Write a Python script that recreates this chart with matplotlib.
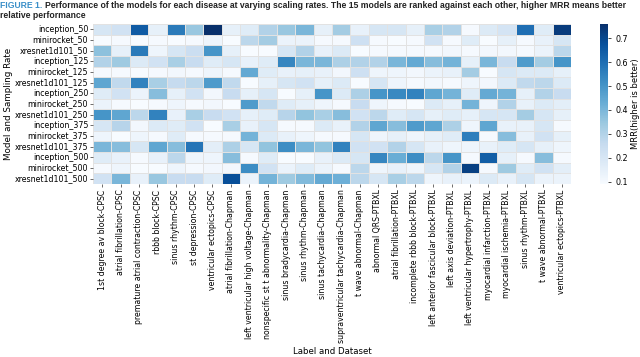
import matplotlib
matplotlib.use("Agg")
import matplotlib.pyplot as plt
import seaborn as sns
import pandas as pd

# --- Dados (MRR) ---
models = [
    "inception_50", "minirocket_50", "xresnet1d101_50",
    "inception_125", "minirocket_125", "xresnet1d101_125",
    "inception_250", "minirocket_250", "xresnet1d101_250",
    "inception_375", "minirocket_375", "xresnet1d101_375",
    "inception_500", "minirocket_500", "xresnet1d101_500",
]

labels = [
    "1st degree av block-CPSC", "atrial fibrillation-CPSC",
    "premature atrial contraction-CPSC", "rbbb block-CPSC",
    "sinus rhythm-CPSC", "st depression-CPSC", "ventricular ectopics-CPSC",
    "atrial fibrillation-Chapman", "left ventricular high voltage-Chapman",
    "nonspecific st t abnormality-Chapman", "sinus bradycardia-Chapman",
    "sinus rhythm-Chapman", "sinus tachycardia-Chapman",
    "supraventricular tachycardia-Chapman", "t wave abnormal-Chapman",
    "abnormal QRS-PTBXL", "atrial fibrillation-PTBXL",
    "incomplete rbbb block-PTBXL", "left anterior fascicular block-PTBXL",
    "left axis deviation-PTBXL", "left ventricular hypertrophy-PTBXL",
    "myocardial infarction-PTBXL", "myocardial ischemia-PTBXL",
    "sinus rhythm-PTBXL", "t wave abnormal-PTBXL", "ventricular ectopics-PTBXL",
]

mrr = [
    [.20, .22, .65, .15, .57, .35, .76, .15, .17, .30, .35, .40, .15, .33, .14, .20, .20, .15, .32, .30, .10, .18, .21, .60, .17, .73],
    [.09, .10, .09, .10, .09, .10, .12, .09, .28, .33, .13, .13, .10, .10, .23, .10, .09, .10, .22, .10, .17, .09, .15, .10, .14, .20],
    [.37, .15, .57, .12, .20, .24, .50, .15, .09, .09, .20, .30, .14, .18, .09, .10, .10, .10, .10, .11, .10, .11, .11, .10, .13, .28],
    [.30, .34, .18, .22, .32, .25, .17, .20, .14, .17, .54, .40, .40, .31, .30, .30, .40, .44, .38, .41, .15, .40, .25, .48, .33, .50],
    [.10, .10, .09, .10, .11, .10, .12, .10, .44, .17, .14, .15, .14, .11, .23, .12, .12, .11, .13, .14, .33, .09, .20, .18, .18, .15],
    [.45, .27, .55, .32, .26, .28, .48, .27, .09, .15, .20, .22, .15, .18, .09, .20, .12, .10, .11, .10, .12, .11, .18, .27, .28, .18],
    [.17, .22, .13, .38, .15, .22, .11, .25, .15, .20, .09, .15, .50, .18, .31, .50, .53, .55, .45, .41, .17, .44, .41, .15, .30, .25],
    [.13, .10, .09, .10, .12, .10, .11, .09, .48, .27, .17, .15, .12, .10, .25, .12, .10, .09, .18, .15, .41, .12, .30, .14, .18, .16],
    [.50, .45, .28, .55, .14, .32, .25, .22, .15, .17, .29, .36, .32, .38, .22, .28, .17, .20, .15, .17, .15, .20, .20, .33, .20, .15],
    [.20, .29, .11, .18, .17, .22, .09, .32, .14, .20, .10, .10, .18, .14, .30, .45, .38, .48, .45, .31, .12, .45, .14, .14, .20, .10],
    [.12, .09, .12, .10, .17, .10, .10, .10, .41, .18, .14, .12, .10, .10, .20, .12, .15, .12, .15, .17, .56, .10, .38, .14, .22, .15],
    [.40, .38, .20, .45, .38, .58, .16, .31, .20, .36, .52, .40, .36, .55, .22, .22, .30, .20, .14, .12, .12, .14, .17, .20, .15, .12],
    [.17, .14, .10, .14, .28, .12, .12, .38, .10, .17, .09, .09, .14, .18, .20, .54, .43, .52, .28, .50, .10, .64, .15, .10, .38, .10],
    [.10, .12, .09, .09, .12, .10, .11, .11, .52, .22, .13, .17, .13, .10, .28, .12, .14, .12, .20, .30, .72, .10, .34, .17, .22, .16],
    [.22, .40, .14, .35, .25, .25, .17, .68, .13, .41, .34, .39, .44, .42, .28, .20, .32, .28, .12, .14, .13, .18, .14, .20, .13, .13],
]

df = pd.DataFrame(mrr, index=models, columns=labels)

# --- Figura ---
fig = plt.figure(figsize=(6.4, 3.57), dpi=100)
ax = fig.add_axes([0.1453, 0.4846, 0.7469, 0.4482])
cax = fig.add_axes([0.9375, 0.4846, 0.0125, 0.4482])

sns.heatmap(df, ax=ax, cbar_ax=cax, cmap="Blues",
            linewidths=0.5, linecolor="#e2e2e2",
            xticklabels=True, yticklabels=True)

ax.tick_params(axis="y", labelsize=5.7, length=2, width=0.5, pad=1.5, color="#333333")
ax.tick_params(axis="x", labelsize=5.55, length=2, width=0.5, pad=2, color="#333333")
ax.set_xlabel("Label and Dataset", fontsize=6.2)
ax.set_ylabel("Model and Sampling Rate", fontsize=6.3)
ax.xaxis.set_label_coords(0.5, -1.02)
ax.yaxis.set_label_coords(-0.168, 0.5)

cax.tick_params(labelsize=5.8, length=2, width=0.5)
cax.set_yticks([0.1, 0.2, 0.3, 0.4, 0.5, 0.6, 0.7])
cax.set_ylabel("MRR(higher is better)", fontsize=6)
cax.yaxis.set_label_coords(3.9, 0.5)

# --- Título em duas cores (ajustado à largura de ~625 px) ---
fam = ["Liberation Sans Narrow", "Liberation Sans", "DejaVu Sans"]
resto = ("Performance of the models for each disease at varying scaling rates. "
         "The 15 models are ranked against each other, higher MRR means better")
fs = 7.0
t1 = fig.text(0.0, 0.997, "FIGURE 1.", color="#3a8fc8", fontsize=fs,
              fontweight="bold", family=fam, va="top", ha="left")
t2 = fig.text(0.0, 0.997, resto, color="#222222", fontsize=fs,
              fontweight="bold", family=fam, va="top", ha="left")
fig.canvas.draw()
largura = t1.get_window_extent().width + 4 + t2.get_window_extent().width
fs = fs * 625 / largura
t1.set_fontsize(fs)
t2.set_fontsize(fs)
fig.canvas.draw()
x2 = (t1.get_window_extent().x1 + 3) / fig.bbox.width
t2.set_x(x2)
fig.text(0.0, 0.968, "relative performance", color="#222222", fontsize=fs,
         fontweight="bold", family=fam, va="top", ha="left")

fig.savefig("out.png", dpi=100)
